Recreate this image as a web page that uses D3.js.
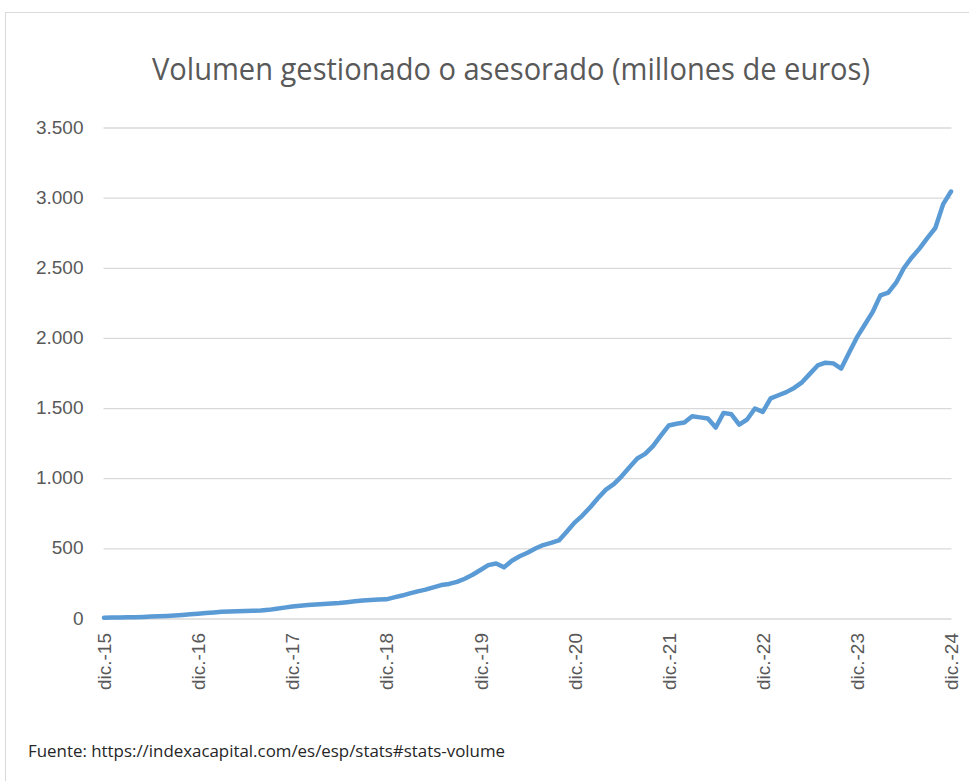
<!DOCTYPE html>
<html>
<head>
<meta charset="utf-8">
<script src="https://cdn.jsdelivr.net/npm/d3@7"></script>
<style>
  html, body { margin: 0; padding: 0; background: #fff; }
  svg { display: block; }
</style>
</head>
<body>
<svg id="chart" width="969" height="781"></svg>
<script>
// ---- data ----
const titleText = "Volumen gestionado o asesorado (millones de euros)";
const sourceText = "Fuente: https://indexacapital.com/es/esp/stats#stats-volume";
// monthly, dic.-15 ... dic.-24 (109 points)
const volume2016 = [2, 3, 4, 5, 6, 8, 10, 12, 15, 18, 22, 26, 30];          // dic.-15 .. dic.-16
const volume2017 = [35, 40, 44, 46, 48, 50, 51, 53, 58, 66, 74, 82];          // ene.-17 .. dic.-17
const volume2018 = [88, 93, 97, 100, 104, 107, 113, 119, 124, 128, 132, 133];
const volume2019 = [147, 160, 176, 190, 202, 218, 235, 243, 258, 280, 308, 342];
const volume2020 = [377, 389, 361, 408, 440, 465, 495, 520, 535, 553, 615, 680];
const volume2021 = [730, 790, 855, 915, 954, 1010, 1075, 1137, 1170, 1225, 1300, 1372];
const volume2022 = [1385, 1393, 1438, 1430, 1422, 1358, 1462, 1452, 1379, 1415, 1493, 1469];
const volume2023 = [1565, 1588, 1610, 1640, 1680, 1740, 1800, 1820, 1815, 1778, 1890, 2000];
const volume2024 = [2090, 2180, 2300, 2320, 2390, 2495, 2570, 2635, 2710, 2780, 2950, 3040];
const xTickLabels = ["dic.-15","dic.-16","dic.-17","dic.-18","dic.-19","dic.-20","dic.-21","dic.-22","dic.-23","dic.-24"];
const yTicks = [0, 500, 1000, 1500, 2000, 2500, 3000, 3500];

const values = [].concat(volume2016, volume2017, volume2018, volume2019, volume2020,
                         volume2021, volume2022, volume2023, volume2024);

// ---- layout ----
const svg = d3.select("#chart");
const plot = { left: 104, right: 951, top: 127, bottom: 618 };

const x = d3.scaleLinear().domain([0, values.length - 1]).range([plot.left, plot.right]);
const y = d3.scaleLinear().domain([0, 3500]).range([plot.bottom, plot.top]);

const locale = d3.formatLocale({ decimal: ",", thousands: ".", grouping: [3], currency: ["", "€"] });
const fmt = locale.format(",d");

// outer border
svg.append("rect")
  .attr("x", 5.5).attr("y", 12.5)
  .attr("width", 1000).attr("height", 900)
  .attr("fill", "none").attr("stroke", "#d9d9d9").attr("stroke-width", 1);

// title
svg.append("text")
  .attr("x", 511).attr("y", 80)
  .attr("text-anchor", "middle")
  .attr("font-family", "'Open Sans', sans-serif")
  .attr("font-size", 31)
  .attr("fill", "#595959")
  .attr("textLength", 718)
  .attr("lengthAdjust", "spacingAndGlyphs")
  .text(titleText);

// y axis with gridlines
const yAxis = d3.axisLeft(y)
  .tickValues(yTicks)
  .tickSize(-(plot.right - plot.left + 1))
  .tickPadding(20)
  .tickFormat(fmt);

const gy = svg.append("g")
  .attr("transform", `translate(${plot.left - 0.5},0)`)
  .call(yAxis);
gy.select(".domain").remove();
gy.selectAll(".tick line").attr("stroke", "#d9d9d9").attr("stroke-width", 1.3)
  .attr("transform", "translate(0,0.5)");
gy.selectAll(".tick text")
  .attr("font-family", "'Liberation Sans', Arial, sans-serif")
  .attr("font-size", 19)
  .attr("fill", "#595959");

// x axis labels (rotated)
const xAxis = d3.axisBottom(x)
  .tickValues(d3.range(0, values.length, 12))
  .tickSize(0)
  .tickFormat((d, i) => xTickLabels[i]);

const gx = svg.append("g")
  .attr("transform", `translate(0,${plot.bottom})`)
  .call(xAxis);
gx.select(".domain").remove();
gx.selectAll(".tick text")
  .attr("font-family", "'Liberation Sans', Arial, sans-serif")
  .attr("font-size", 19)
  .attr("fill", "#595959")
  .attr("text-anchor", "end")
  .attr("transform", "rotate(-90)")
  .attr("x", -15)
  .attr("y", 0)
  .attr("dy", "0.35em");

// line
const line = d3.line()
  .x((d, i) => x(i))
  .y(d => y(d));

svg.append("path")
  .datum(values)
  .attr("d", line)
  .attr("fill", "none")
  .attr("stroke", "#5b9bd5")
  .attr("stroke-width", 4.5)
  .attr("stroke-linejoin", "round")
  .attr("stroke-linecap", "round");

// source
svg.append("text")
  .attr("x", 28).attr("y", 757)
  .attr("font-family", "'Open Sans', sans-serif")
  .attr("font-size", 16.5)
  .attr("fill", "#262626")
  .attr("textLength", 477)
  .attr("lengthAdjust", "spacingAndGlyphs")
  .text(sourceText);
</script>
</body>
</html>
